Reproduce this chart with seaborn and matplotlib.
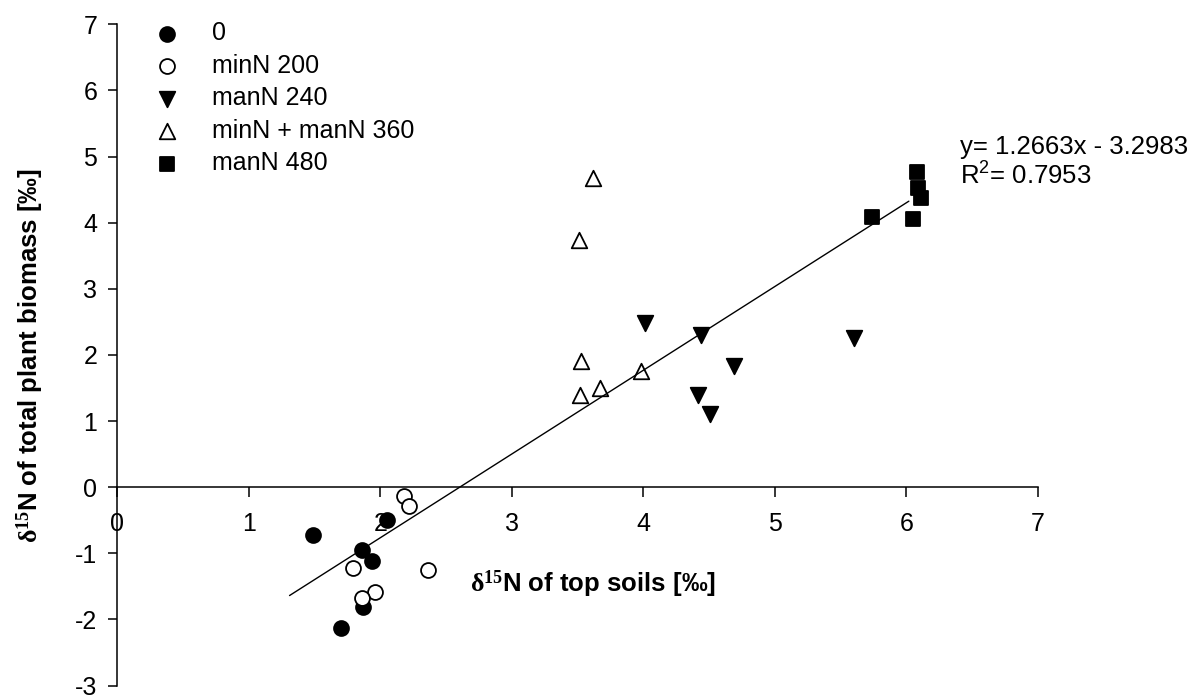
import numpy as np
import matplotlib
matplotlib.use("Agg")
import matplotlib.pyplot as plt
import seaborn as sns

# Treatment groups: δ15N of top soil (x) vs δ15N of total plant biomass (y)
ctrl_x = [1.49, 2.05, 1.86, 1.94, 1.87, 1.70]
ctrl_y = [-0.73, -0.49, -0.95, -1.12, -1.82, -2.13]

minN200_x = [2.18, 2.22, 1.79, 2.36, 1.96, 1.86]
minN200_y = [-0.14, -0.29, -1.22, -1.26, -1.59, -1.67]

manN240_x = [4.01, 4.44, 5.60, 4.69, 4.42, 4.51]
manN240_y = [2.48, 2.30, 2.25, 1.83, 1.40, 1.10]

minman360_x = [3.62, 3.51, 3.53, 3.98, 3.67, 3.52]
minman360_y = [4.67, 3.74, 1.91, 1.75, 1.50, 1.40]

manN480_x = [6.08, 6.09, 6.11, 5.74, 6.05]
manN480_y = [4.76, 4.52, 4.37, 4.08, 4.05]

labels = ["0", "minN 200", "manN 240", "minN + manN 360", "manN 480"]

# Linear fit reported on the chart
slope = 1.2663
intercept = -3.2983
r_squared = 0.7953
fit_x = np.array([1.31, 6.02])

x_ticks = [0, 1, 2, 3, 4, 5, 6, 7]
y_ticks = [-3, -2, -1, 0, 1, 2, 3, 4, 5, 6, 7]

sns.set_style("ticks")
plt.rcParams["font.family"] = ["Liberation Sans", "DejaVu Sans"]
plt.rcParams["text.color"] = "black"
plt.rcParams["axes.labelcolor"] = "black"
plt.rcParams["mathtext.fontset"] = "custom"
plt.rcParams["mathtext.rm"] = "Liberation Serif:bold"
plt.rcParams["mathtext.sf"] = "Liberation Sans"

fig = plt.figure(figsize=(11.91, 6.96), dpi=100)
ax = fig.add_axes([117.3 / 1191, 1 - 685.5 / 696, (1037.7 - 117.3) / 1191, (685.5 - 24.3) / 696])

groups = [
    (ctrl_x, ctrl_y, "o", "black", 115),
    (minN200_x, minN200_y, "o", "white", 115),
    (manN240_x, manN240_y, "v", "black", 125),
    (minman360_x, minman360_y, "^", "white", 125),
    (manN480_x, manN480_y, "s", "black", 110),
]
for (gx, gy, mk, fc, sz), lab in zip(groups, labels):
    sns.scatterplot(x=gx, y=gy, marker=mk, s=sz, color=fc, edgecolor="black",
                    linewidth=1.3, label=lab, ax=ax, zorder=3)

sns.lineplot(x=fit_x, y=slope * fit_x + intercept, color="black", linewidth=1.0,
             ax=ax, zorder=4)

ax.set_xlim(0, 7)
ax.set_ylim(-3, 7)
ax.set_xticks(x_ticks)
ax.set_yticks(y_ticks)
ax.set_xticklabels([str(t) for t in x_ticks])
ax.set_yticklabels([str(t) for t in y_ticks])

for side in ["top", "right"]:
    ax.spines[side].set_visible(False)
ax.spines["bottom"].set_position(("data", 0))
for side in ["left", "bottom"]:
    ax.spines[side].set_linewidth(1.1)
    ax.spines[side].set_color("black")

ax.tick_params(axis="x", direction="out", length=7, width=1.1, pad=11,
               labelsize=18, colors="black")
ax.tick_params(axis="y", direction="out", length=6.5, width=1.1, pad=8,
               labelsize=18, colors="black")
ax.set_xlabel("")
ax.set_ylabel("")

ax.text(3.62, -1.58, r"$\mathrm{\delta^{15}}$N of top soils [‰]", ha="center",
        va="baseline", fontsize=18.5, fontweight="bold")
fig.text(30 / 1191, 1 - 356 / 696, r"$\mathrm{\delta^{15}}$N of total plant biomass [‰]",
         rotation=90, ha="center", va="center", fontsize=18.5, fontweight="bold")

ax.text(6.41, 5.04, f"y= {slope}x - {abs(intercept)}", ha="left", va="baseline",
        fontsize=18.5, clip_on=False)
ax.text(6.41, 4.585, r"R$^{\mathsf{2}}$= " + f"{r_squared}", ha="left", va="baseline",
        fontsize=18.5, clip_on=False)

ax.legend(loc="upper left", bbox_to_anchor=(0.028, 1.0045), frameon=False,
          fontsize=18, borderaxespad=0, borderpad=0, labelspacing=0.34,
          handletextpad=0.85, handlelength=1.9, scatterpoints=1)

fig.savefig("out.png", dpi=100)
